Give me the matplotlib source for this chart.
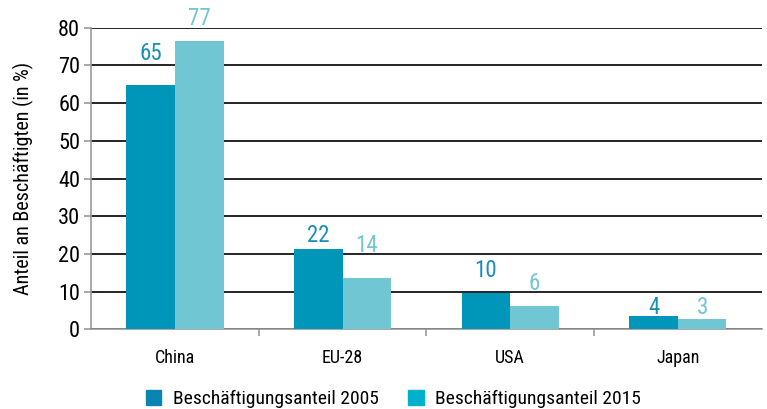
import numpy as np
import matplotlib.pyplot as plt

plt.rcParams['font.family'] = ['Roboto Condensed', 'Liberation Sans Narrow', 'DejaVu Sans']
plt.rcParams['font.stretch'] = 'condensed'

# data
regions = ["China", "EU-28", "USA", "Japan"]
share_2005 = [64.7, 21.3, 9.7, 3.6]
share_2015 = [76.6, 13.6, 6.2, 2.8]
labels_2005 = ["65", "22", "10", "4"]
labels_2015 = ["77", "14", "6", "3"]

# label offsets above the bars (points), as placed in the original
off_2005 = [18, 5, 11, 1.5]
off_2015 = [11, 19, 11.5, 3.5]

bar_2005 = "#0096b9"
bar_2015 = "#70c7d3"
leg_2005 = "#0a84b0"
leg_2015 = "#00b0cc"

fig = plt.figure(figsize=(7.67, 4.09), dpi=100)
ax = fig.add_axes([0.119, 0.195, 0.874, 0.737])

x = np.arange(len(regions))
w = 0.29
ax.bar(x - w / 2, share_2005, w, color=bar_2005, zorder=3)
ax.bar(x + w / 2, share_2015, w, color=bar_2015, zorder=3)

# value labels above bars
for xi, v, t, o in zip(x, share_2005, labels_2005, off_2005):
    ax.annotate(t, (xi - w / 2, v), xytext=(0, o), textcoords="offset points",
                ha="center", va="baseline", fontsize=16.5, color="#1a8fb5")
for xi, v, t, o in zip(x, share_2015, labels_2015, off_2015):
    ax.annotate(t, (xi + w / 2, v), xytext=(0, o), textcoords="offset points",
                ha="center", va="baseline", fontsize=16.5, color="#70c6d4")

ax.set_xlim(-0.5, 3.5)
ax.set_ylim(0, 80)
ax.set_yticks(range(0, 81, 10))
ax.yaxis.grid(True, color="black", linewidth=1.2, zorder=0)
ax.set_axisbelow(True)

# category boundaries as ticks, names as minor labels
ax.set_xticks([0.5, 1.5, 2.5])
ax.set_xticklabels([])
ax.set_xticks(x, minor=True)
ax.set_xticklabels(regions, minor=True, fontsize=13)
ax.tick_params(axis="x", which="major", length=5, color="#999999", width=1.2)
ax.tick_params(axis="x", which="minor", length=0, pad=14)
ax.tick_params(axis="y", length=5, color="#999999", width=1.2, labelsize=16, pad=3)

for s in ["top", "right"]:
    ax.spines[s].set_visible(False)
ax.spines["left"].set_color("#999999")
ax.spines["bottom"].set_color("#999999")
ax.spines["left"].set_linewidth(1.2)
ax.spines["bottom"].set_linewidth(1.2)

ax.set_ylabel("Anteil an Beschäftigten (in %)", fontsize=14.5, labelpad=17)

handles = [plt.Rectangle((0, 0), 1, 1, color=leg_2005),
           plt.Rectangle((0, 0), 1, 1, color=leg_2015)]
fig.legend(handles, ["Beschäftigungsanteil 2005", "Beschäftigungsanteil 2015"],
           loc="lower center", bbox_to_anchor=(0.513, -0.04), ncol=2, frameon=False,
           fontsize=14, handlelength=0.8, handleheight=0.8, handletextpad=0.6,
           columnspacing=1.5)

fig.savefig("out.png", dpi=100)
